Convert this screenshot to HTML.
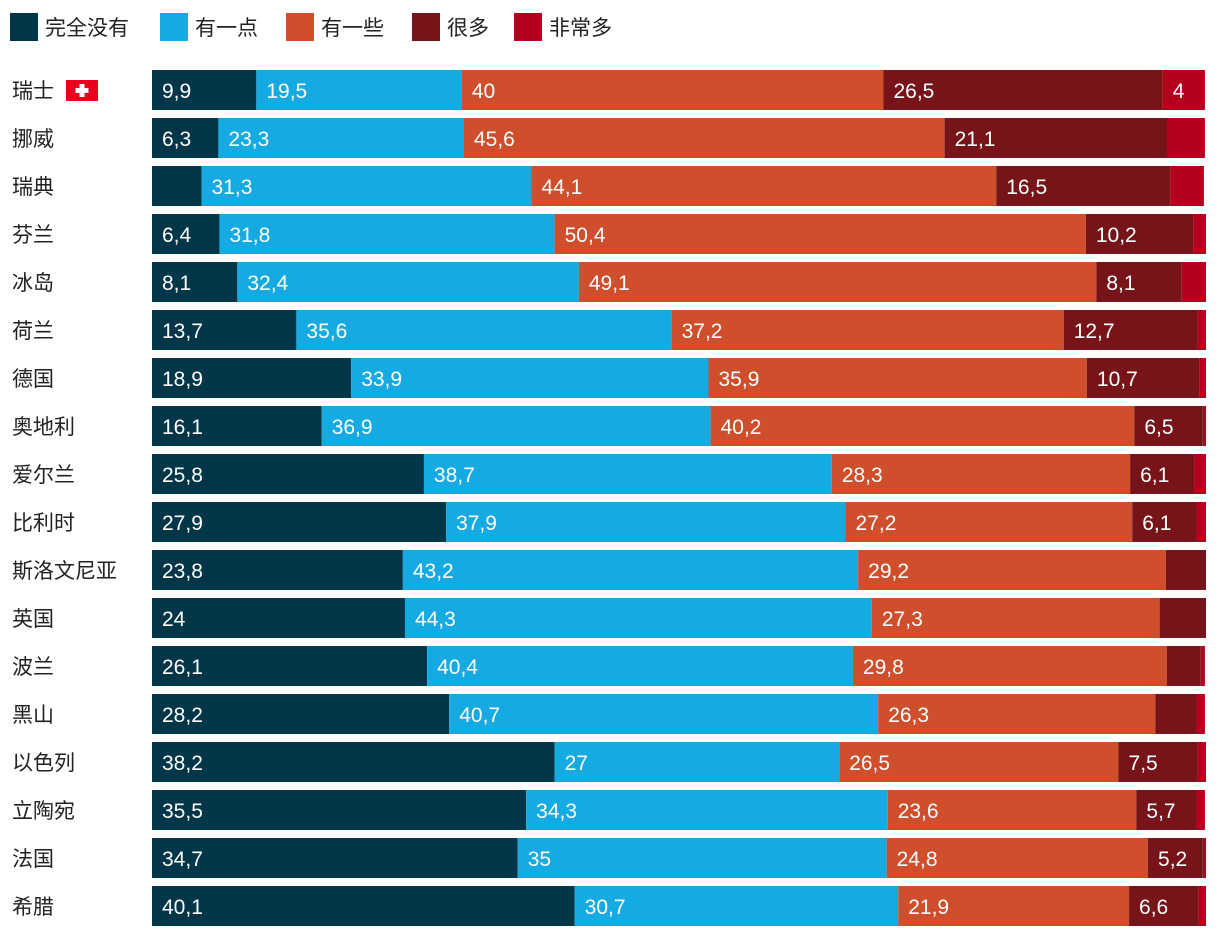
<!DOCTYPE html>
<html><head><meta charset="utf-8">
<style>
body{margin:0;background:#fff;width:1220px;height:936px;overflow:hidden;font-family:"Liberation Sans","Noto Sans CJK SC",sans-serif;}
</style></head>
<body>
<svg id="chart" width="1220" height="936" xmlns="http://www.w3.org/2000/svg" font-family="Liberation Sans, Noto Sans CJK SC, sans-serif"></svg>
<script>
const categories=["瑞士","挪威","瑞典","芬兰","冰岛","荷兰","德国","奥地利","爱尔兰","比利时","斯洛文尼亚","英国","波兰","黑山","以色列","立陶宛","法国","希腊"];
const seriesNames=["完全没有","有一点","有一些","很多","非常多"];
const s0=[9.9,6.3,4.7,6.4,8.1,13.7,18.9,16.1,25.8,27.9,23.8,24,26.1,28.2,38.2,35.5,34.7,40.1];
const s1=[19.5,23.3,31.3,31.8,32.4,35.6,33.9,36.9,38.7,37.9,43.2,44.3,40.4,40.7,27,34.3,35,30.7];
const s2=[40,45.6,44.1,50.4,49.1,37.2,35.9,40.2,28.3,27.2,29.2,27.3,29.8,26.3,26.5,23.6,24.8,21.9];
const s3=[26.5,21.1,16.5,10.2,8.1,12.7,10.7,6.5,6.1,6.1,3.8,4.4,3.2,3.9,7.5,5.7,5.2,6.6];
const s4=[4,3.6,3.2,1.2,2.3,0.8,0.6,0.3,1.1,0.9,0,0,0.4,0.8,0.8,0.8,0.3,0.7];
const series=[s0,s1,s2,s3,s4];
const colors=["#033649","#15abe2","#cf4e2b","#76141a","#b4001e"];
const svg=document.getElementById('chart');
const NS="http://www.w3.org/2000/svg";
const x0=152,x1=1206,top0=70,pitch=48,bh=40;
const xs=v=>v/100*(x1-x0);
function mk(t,a){const e=document.createElementNS(NS,t);for(const k in a)e.setAttribute(k,a[k]);svg.appendChild(e);return e;}
// legend
const legendX=[10,160,286,412,514];
seriesNames.forEach((n,i)=>{
 const lx=legendX[i];
 const r=mk('rect',{x:lx,y:13,width:28,height:28,fill:colors[i]});
 
 
 const t=mk('text',{x:lx+35,y:35,'font-size':21,fill:'#222'});
 t.textContent=n;
 
 
});
categories.forEach((c,r)=>{
 const y=top0+r*pitch;
 const t=mk('text',{x:12,y:y+28,'font-size':21,fill:'#222'});
 t.textContent=c;
 
 
 if(r===0){
  const f=mk('rect',{x:66,y:y+10,width:32,height:21,fill:'#e8001c'});
  
  
  mk('rect',{x:79.5,y:y+14,width:5,height:13,fill:'#fff'});
  mk('rect',{x:75.5,y:y+18,width:13,height:5,fill:'#fff'});
 }
 let acc=0;
 series.forEach((s,i)=>{
  const v=s[r];const sx=x0+xs(acc);const w=xs(v);acc+=v;
  if(v<=0)return;
  const b=mk('rect',{x:sx,y:y,width:w,height:bh,fill:colors[i]});
  
  
  const lab=String(v).replace('.',',');
  const tt=mk('text',{x:sx+10,y:y+28,'font-size':21,fill:'#fff'});
  tt.textContent=lab;
  
  
  if(tt.getComputedTextLength()+22>w)tt.remove();
 });
});
</script>
</body></html>
